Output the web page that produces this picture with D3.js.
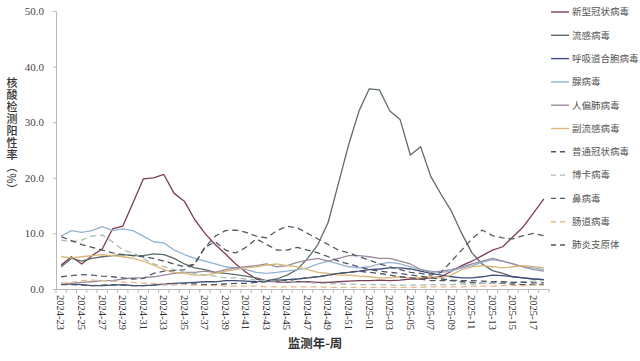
<!DOCTYPE html>
<html><head><meta charset="utf-8">
<script src="https://cdn.jsdelivr.net/npm/d3@7"></script>
<style>html,body{margin:0;padding:0;background:#fff;}svg{display:block;}</style>
</head><body>
<svg id="c" width="640" height="361"></svg>
<script>
// ---- data ----
const weeks = ["2024-23","2024-24","2024-25","2024-26","2024-27","2024-28","2024-29","2024-30","2024-31","2024-32","2024-33","2024-34","2024-35","2024-36","2024-37","2024-38","2024-39","2024-40","2024-41","2024-42","2024-43","2024-44","2024-45","2024-46","2024-47","2024-48","2024-49","2024-50","2024-51","2024-52","2025-01","2025-02","2025-03","2025-04","2025-05","2025-06","2025-07","2025-08","2025-09","2025-10","2025-11","2025-12","2025-13","2025-14","2025-15","2025-16","2025-17","2025-18"];
const yTicks = [0,10,20,30,40,50];
const seriesNames = ["新型冠状病毒","流感病毒","呼吸道合胞病毒","腺病毒","人偏肺病毒","副流感病毒","普通冠状病毒","博卡病毒","鼻病毒","肠道病毒","肺炎支原体"];
const covid   = [4.3,5.8,4.5,6.0,7.2,10.8,11.3,15.5,19.8,20.0,20.6,17.2,15.8,12.5,10.0,8.0,6.3,4.5,3.0,1.8,1.4,1.3,1.2,1.3,1.3,1.2,1.2,1.3,1.4,1.5,1.5,1.6,1.5,1.6,1.8,1.8,2.0,2.2,3.2,4.2,5.0,6.0,7.0,7.6,9.4,11.2,13.7,16.2];
const flu     = [4.0,5.5,5.0,5.5,5.8,6.0,6.2,6.0,6.0,6.3,6.2,5.5,4.5,3.8,3.5,3.0,2.8,2.6,2.3,2.0,1.5,1.8,2.5,3.5,5.5,8.0,12.0,19.0,26.0,32.0,36.0,35.8,32.0,30.5,24.1,25.6,20.2,17.0,14.0,10.0,6.5,4.5,3.3,2.8,2.2,2.0,1.8,1.7];
const rsv     = [0.9,0.9,0.8,0.6,0.6,0.7,0.8,0.6,0.6,0.7,0.9,1.0,1.1,1.2,1.3,1.3,1.5,1.5,1.4,1.3,1.5,1.6,1.7,1.8,2.0,2.2,2.5,2.8,3.0,3.2,3.5,3.6,3.8,3.8,3.6,3.2,2.8,2.5,2.2,2.0,2.0,2.2,2.5,2.4,2.2,2.0,1.8,1.7];
const adeno   = [9.5,10.5,10.2,10.5,11.2,10.5,10.8,10.5,9.5,8.5,8.3,7.0,6.2,5.5,5.0,4.5,4.0,3.8,3.5,3.0,2.8,3.0,3.2,3.5,3.8,4.5,5.0,4.5,4.0,3.8,4.0,4.5,4.8,4.5,4.0,3.5,3.2,3.0,3.2,3.8,4.2,4.8,5.3,5.0,4.5,4.0,3.8,3.5];
const hmpv    = [1.0,1.0,1.2,1.3,1.5,1.5,1.8,2.0,2.0,2.2,2.5,2.8,3.0,3.0,3.2,3.0,3.5,3.8,4.0,4.2,4.5,4.0,4.2,4.8,5.2,5.5,5.0,5.5,6.0,6.0,5.8,5.5,5.5,5.0,4.5,3.5,3.0,3.2,3.5,4.0,4.5,5.0,5.5,5.0,4.5,4.0,3.5,3.2];
const piv     = [5.8,5.6,5.8,6.0,6.2,6.0,5.8,5.5,5.0,4.3,3.5,3.0,2.8,2.5,2.5,2.8,3.2,3.5,3.8,4.0,4.3,4.5,4.2,4.0,3.5,3.0,2.8,2.5,2.5,2.3,2.2,2.0,2.0,2.2,2.0,2.0,2.2,2.0,2.5,3.5,4.0,4.2,4.0,3.8,4.0,4.2,4.0,3.8];
const hcov    = [0.8,0.8,0.7,0.6,0.7,0.8,0.7,0.6,0.6,0.7,0.8,0.8,0.9,0.9,0.8,0.8,0.9,1.0,1.0,1.2,1.3,1.5,1.5,1.8,2.0,2.2,2.5,2.8,3.0,3.2,3.0,2.8,2.5,2.2,2.0,1.8,1.5,1.5,1.5,1.3,1.2,1.0,1.0,1.0,0.9,0.8,0.8,0.8];
const boca    = [8.8,8.5,8.8,9.5,9.7,8.5,7.0,6.5,5.5,4.5,4.0,3.5,3.0,2.8,2.5,2.3,2.0,2.0,1.8,1.6,1.5,1.4,1.3,1.2,1.2,1.0,1.0,0.9,0.9,0.8,0.8,0.8,0.7,0.7,0.7,0.7,0.8,0.8,0.8,0.9,0.9,1.0,1.0,1.1,1.2,1.3,1.4,1.5];
const rhino   = [2.2,2.4,2.6,2.5,2.3,2.2,2.0,1.8,1.9,2.8,3.2,3.3,3.5,4.5,7.5,9.5,10.5,10.6,10.2,9.5,9.2,10.5,11.3,11.0,10.0,9.0,8.0,7.0,6.5,5.8,5.2,4.5,4.0,3.5,3.0,2.8,2.5,3.0,5.0,7.0,9.0,10.6,9.6,9.2,9.0,9.6,10.0,9.6];
const entero  = [1.0,1.2,1.5,1.6,1.5,1.4,1.2,1.2,1.0,1.0,0.9,0.8,0.8,0.7,0.6,0.6,0.5,0.5,0.5,0.5,0.4,0.4,0.4,0.4,0.4,0.4,0.3,0.3,0.3,0.3,0.3,0.3,0.3,0.3,0.3,0.3,0.4,0.4,0.4,0.4,0.5,0.5,0.5,0.6,0.6,0.6,0.7,0.7];
const mp      = [9.4,8.7,8.0,7.5,7.0,6.5,6.2,6.0,5.8,5.5,5.0,4.5,4.0,4.5,7.5,8.5,7.0,6.5,7.5,9.0,8.0,7.0,7.0,7.5,7.0,6.5,5.8,5.0,4.5,4.0,3.5,3.2,3.0,2.8,2.5,2.3,2.0,1.8,1.6,1.5,1.5,1.4,1.3,1.3,1.2,1.2,1.1,1.1];

const seriesValues = [covid,flu,rsv,adeno,hmpv,piv,hcov,boca,rhino,entero,mp];
const colors = ["#7d3b55","#5e6b66","#3d4f7a","#93b3d0","#9a8c9e","#d8b878","#4d5463","#a9bdb2","#555d6a","#e8b98a","#4f5560"];
const dashed = [false,false,false,false,false,false,true,true,true,true,true];

// ---- chart ----
const svg = d3.select("#c");
const mLeft = 56, mRight = 549, mTop = 11, mBottom = 289;
const x = d3.scaleBand().domain(weeks).range([mLeft, mRight]);
const y = d3.scaleLinear().domain([0,50]).range([mBottom, mTop]);
const axisColor = "#b8b8b8";

// y axis
const ya = svg.append("g").attr("transform",`translate(${mLeft},0)`)
  .call(d3.axisLeft(y).tickValues(yTicks).tickFormat(d3.format(".1f")).tickSize(3).tickPadding(9));
ya.select(".domain").attr("stroke",axisColor);
ya.selectAll(".tick line").attr("stroke",axisColor);
ya.selectAll("text").attr("font-family","Liberation Serif").attr("font-size",11).attr("fill","#444");

// x axis
const xa = svg.append("g").attr("transform",`translate(0,${mBottom})`)
  .call(d3.axisBottom(x).tickValues([]).tickSizeOuter(0));
xa.select(".domain").attr("stroke",axisColor);
svg.append("g").selectAll("line").data(weeks.concat(["end"])).join("line")
  .attr("x1",(d,i)=>mLeft + i*x.step()).attr("x2",(d,i)=>mLeft + i*x.step())
  .attr("y1",mBottom).attr("y2",mBottom+4).attr("stroke",axisColor);
svg.append("g").selectAll("text").data(weeks.filter((d,i)=>i%2===0)).join("text")
  .attr("transform",d=>`translate(${x(d)+x.bandwidth()/2},${mBottom+6}) rotate(90)`)
  .attr("dy","0.35em")
  .attr("font-family","Liberation Serif").attr("font-size",10.5).attr("fill","#333")
  .text(d=>d);

// lines
const line = d3.line().x((d,i)=>x(weeks[i])+x.bandwidth()/2).y(d=>y(d));
svg.append("g").selectAll("path").data(seriesValues).join("path")
  .attr("d",line).attr("fill","none")
  .attr("stroke",(d,i)=>colors[i]).attr("stroke-width",1.3)
  .attr("stroke-dasharray",(d,i)=>dashed[i]?"6,4":null)
  .attr("stroke-linejoin","round");

// legend
const lg = svg.append("g");
seriesNames.forEach((n,i)=>{
  const yy = 12 + i*23.3;
  lg.append("line").attr("x1",551).attr("x2",569).attr("y1",yy).attr("y2",yy)
    .attr("stroke",colors[i]).attr("stroke-width",1.4)
    .attr("stroke-dasharray",dashed[i]?"5,4":null);
  lg.append("text").attr("x",572).attr("y",yy).attr("dy","0.35em")
    .attr("font-family","Noto Sans CJK SC").attr("font-size",9.5).attr("fill","#555").text(n);
});

// axis titles
svg.append("text").attr("x",315).attr("y",348).attr("text-anchor","middle")
  .attr("font-family","Noto Sans CJK SC").attr("font-size",12.5).attr("font-weight",600).attr("fill","#333")
  .text("监测年-周");
svg.append("text").attr("x",12).attr("y",137).attr("text-anchor","middle")
  .style("writing-mode","vertical-rl").style("letter-spacing","1px")
  .attr("font-family","Noto Sans CJK SC").attr("font-size",11).attr("font-weight",500).attr("fill","#333")
  .text("核酸检测阳性率（%）");
</script>
</body></html>
